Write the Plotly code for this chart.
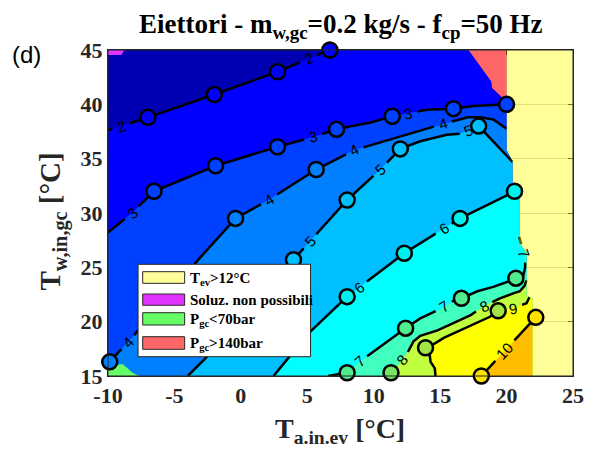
import numpy as np
import plotly.graph_objects as go

# ---- iso-lines of the map (x: T_a,in,ev [°C], y: T_w,in,gc [°C]) ----
iso2_x = [-10.0, -7.0, -2.0, 2.76, 6.7]
iso2_y = [37.6, 38.8, 40.9, 43.0, 45.0]
iso3_x = [-10.0, -8.2, -6.54, -1.9, 2.76, 5.45, 7.2, 8.55, 9.7, 11.4, 14.0, 16.0, 17.5, 20.0]
iso3_y = [28.2, 30.0, 32.0, 34.35, 36.1, 37.0, 37.7, 38.05, 38.3, 38.9, 39.5, 39.6, 39.85, 40.0]
iso4_x = [-10.0, -8.5, -3.13, -0.4, 2.09, 5.67, 8.55, 12.8, 15.2, 17.1, 18.0, 19.0, 20.0]
iso4_y = [16.15, 18.1, 25.8, 29.5, 31.2, 34.0, 35.8, 37.3, 38.2, 38.8, 38.8, 38.6, 37.75]
iso5_x = [-4.0, -2.76, 3.96, 5.2, 8.0, 10.5, 12.0, 13.5, 15.5, 16.5, 17.9, 20.45]
iso5_y = [15.0, 16.5, 25.7, 27.4, 31.2, 34.0, 35.9, 36.6, 37.2, 37.3, 38.0, 34.7]
iso6_x = [2.46, 3.33, 5.07, 8.0, 12.3, 16.5, 20.64]
iso6_y = [15.0, 16.3, 18.9, 22.3, 26.3, 29.5, 32.0]
iso7_x = [6.57, 8.0, 8.93, 10.8, 12.4, 13.5, 14.9, 16.1, 16.6, 17.8, 19.0, 20.1, 20.7, 21.25, 21.4, 21.4, 21.15, 20.95]
iso7_y = [15.0, 15.3, 16.3, 18.0, 19.4, 20.3, 21.1, 22.0, 22.15, 22.8, 23.2, 23.7, 24.0, 24.2, 25.0, 26.0, 26.9, 27.8]
iso8_x = [11.1, 11.3, 12.16, 12.66, 13.0, 13.5, 14.8, 16.0, 17.3, 18.25, 19.5, 20.5, 21.0, 21.35, 21.5]
iso8_y = [15.0, 15.2, 16.5, 17.4, 18.2, 18.7, 19.2, 19.85, 20.6, 21.4, 22.15, 22.6, 22.8, 23.3, 23.8]
iso9_x = [14.65, 14.6, 14.28, 14.2, 13.9, 14.4, 15.27, 16.5, 17.76, 18.75, 19.37, 20.5, 21.5, 21.72]
iso9_y = [15.0, 15.7, 16.3, 17.1, 17.6, 17.85, 18.5, 19.2, 19.85, 20.45, 21.0, 21.25, 21.7, 22.25]
iso10_x = [18.1, 21.95]
iso10_y = [15.0, 20.07]

levels = [2, 3, 4, 5, 6, 7, 8, 9, 10]
iso_x = [iso2_x, iso3_x, iso4_x, iso5_x, iso6_x, iso7_x, iso8_x, iso9_x, iso10_x]
iso_y = [iso2_y, iso3_y, iso4_y, iso5_y, iso6_y, iso7_y, iso8_y, iso9_y, iso10_y]

# inline label anchors for each level
labels_xy = {
    2: [(-9.0, 37.9), (5.1, 44.2)],
    3: [(-8.2, 30.0), (5.45, 37.0), (12.6, 39.1)],
    4: [(-8.5, 18.1), (2.1, 31.3), (8.55, 35.8), (15.2, 38.2)],
    5: [(5.2, 27.4), (10.5, 34.0), (17.2, 37.4)],
    6: [(8.9, 23.2), (15.3, 28.5)],
    7: [(8.93, 16.3), (15.27, 21.4), (21.3, 26.3)],
    8: [(12.16, 16.5), (18.25, 21.5)],
    9: [(20.5, 21.25)],
    10: [(19.9, 17.3)],
}

# operating points marked on the iso-lines
pts_x = {
    2: [-7.0, -2.0, 2.76, 6.7],
    3: [-6.54, -1.9, 2.76, 7.2, 11.4, 16.0, 20.0],
    4: [-9.87, -0.4, 5.67],
    5: [3.96, 8.0, 12.0, 17.9],
    6: [8.0, 12.3, 16.5, 20.6],
    7: [8.0, 12.4, 16.6, 20.7],
    8: [11.3],
    9: [13.9, 19.37],
    10: [18.1, 22.2],
}
pts_y = {
    2: [38.8, 40.9, 43.0, 45.0],
    3: [32.0, 34.35, 36.1, 37.7, 38.9, 39.6, 40.0],
    4: [16.3, 29.5, 34.0],
    5: [25.7, 31.2, 35.9, 38.0],
    6: [22.3, 26.3, 29.5, 32.0],
    7: [15.3, 19.4, 22.15, 24.0],
    8: [15.3],
    9: [17.6, 21.0],
    10: [15.0, 20.4],
}

# boundary of the computed domain (counter-clockwise from bottom-left)
dom_x = [-10.0, 21.95, 21.95, 21.5, 21.5, 20.95, 20.95, 20.45, 20.45, 20.0, 20.0, 19.7, 18.9, 18.85, 17.13, -10.0]
dom_y = [15.0, 15.0, 22.1, 22.4, 26.4, 27.2, 31.5, 32.3, 34.7, 35.8, 40.5, 40.6, 41.5, 42.1, 45.0, 45.0]

# small excluded regions
green_x = [-10.0, -10.0, -8.9, -8.15, -7.75, -7.6]
green_y = [15.0, 15.9, 16.1, 15.3, 15.05, 15.0]
magenta_x = [-10.0, -8.75, -9.0, -10.0]
magenta_y = [45.0, 45.0, 44.55, 44.55]

x_ticks = [-10, -5, 0, 5, 10, 15, 20, 25]
y_ticks = [15, 20, 25, 30, 35, 40, 45]

band_colors = {
    1: "rgb(0,0,178)", 2: "rgb(0,0,255)", 3: "rgb(0,64,255)", 4: "rgb(0,128,255)",
    5: "rgb(0,191,255)", 6: "rgb(0,255,255)", 7: "rgb(64,255,191)",
    8: "rgb(191,255,64)", 9: "rgb(255,255,0)", 10: "rgb(255,191,0)",
}
point_colors = {
    2: "rgb(0,0,255)", 3: "rgb(0,64,255)", 4: "rgb(0,128,255)", 5: "rgb(0,191,255)",
    6: "rgb(0,240,240)", 7: "rgb(80,235,140)", 8: "rgb(120,230,100)",
    9: "rgb(160,230,70)", 10: "rgb(255,225,0)",
}

# plot-area geometry (pixels)
ML, MR, MT, MB = 108, 19, 50, 74
W, H = 596, 450
XR, YR = (-10, 25), (15, 45)
KX = (W - ML - MR) / (XR[1] - XR[0])
KY = (H - MT - MB) / (YR[1] - YR[0])

bx = np.array(dom_x)
by = np.array(dom_y)
nb = len(bx)
edge_len = np.hypot(np.diff(np.r_[bx, bx[0]]) * KX, np.diff(np.r_[by, by[0]]) * KY)
vert_s = np.r_[0.0, np.cumsum(edge_len)[:-1]]


def boundary_s(px, py):
    best_d, best_s = None, 0.0
    for i in range(nb):
        ax, ay = bx[i] * KX, by[i] * KY
        cx, cy = bx[(i + 1) % nb] * KX, by[(i + 1) % nb] * KY
        dx, dy = cx - ax, cy - ay
        t = np.clip(((px * KX - ax) * dx + (py * KY - ay) * dy) / (dx * dx + dy * dy), 0, 1)
        d = np.hypot(ax + t * dx - px * KX, ay + t * dy - py * KY)
        if best_d is None or d < best_d:
            best_d, best_s = d, vert_s[i] + t * edge_len[i]
    return best_s


def high_side_polygon(xs, ys):
    sS = boundary_s(xs[0], ys[0])
    sE = boundary_s(xs[-1], ys[-1])
    order = np.argsort(-vert_s)
    if sS < sE:
        sel = [i for i in order if sS < vert_s[i] < sE]
    else:
        sel = [i for i in order if vert_s[i] < sE] + [i for i in order if vert_s[i] > sS]
    px = list(xs) + [bx[i] for i in sel] + [xs[0]]
    py = list(ys) + [by[i] for i in sel] + [ys[0]]
    return px, py


def locate(xs, ys, qx, qy):
    X, Y = np.array(xs) * KX, np.array(ys) * KY
    seg = np.hypot(np.diff(X), np.diff(Y))
    cum = np.r_[0.0, np.cumsum(seg)]
    best = None
    for i in range(len(X) - 1):
        dx, dy = X[i + 1] - X[i], Y[i + 1] - Y[i]
        t = np.clip(((qx * KX - X[i]) * dx + (qy * KY - Y[i]) * dy) / (dx * dx + dy * dy), 0, 1)
        d = np.hypot(X[i] + t * dx - qx * KX, Y[i] + t * dy - qy * KY)
        if best is None or d < best[0]:
            best = (d, cum[i] + t * seg[i], np.degrees(np.arctan2(dy, dx)))
    return best[1], best[2], cum


def broken_line(xs, ys, gaps, cum):
    xs, ys = np.array(xs), np.array(ys)
    vis, start = [], 0.0
    for a, b in sorted(gaps):
        vis.append((start, a))
        start = b
    vis.append((start, cum[-1]))
    ox, oy = [], []
    for a, b in vis:
        a, b = max(a, 0.0), min(b, cum[-1])
        if b <= a:
            continue
        inner = (cum > a) & (cum < b)
        ox += [np.interp(a, cum, xs)] + list(xs[inner]) + [np.interp(b, cum, xs), None]
        oy += [np.interp(a, cum, ys)] + list(ys[inner]) + [np.interp(b, cum, ys), None]
    return ox, oy


fig = go.Figure()

# filled bands, stacked from the lowest level up
fig.add_trace(go.Scatter(x=list(bx) + [bx[0]], y=list(by) + [by[0]], mode="lines",
                         fill="toself", fillcolor=band_colors[1], line=dict(width=0),
                         hoverinfo="skip", showlegend=False))
for lev, xs, ys in zip(levels, iso_x, iso_y):
    px, py = high_side_polygon(xs, ys)
    fig.add_trace(go.Scatter(x=px, y=py, mode="lines", fill="toself",
                             fillcolor=band_colors[lev], line=dict(width=0),
                             hoverinfo="skip", showlegend=False))

# iso-lines with inline labels
annotations = []
for lev, xs, ys in zip(levels, iso_x, iso_y):
    gaps = []
    gap = 28 if lev >= 10 else 19
    cum = None
    for (qx, qy) in labels_xy[lev]:
        s, ang, cum = locate(xs, ys, qx, qy)
        if ang > 90:
            ang -= 180
        elif ang < -90:
            ang += 180
        gaps.append((s - gap / 2, s + gap / 2))
        lx = np.interp(s, cum, xs)
        ly = np.interp(s, cum, ys)
        annotations.append(dict(x=lx, y=ly, xref="x", yref="y", text=str(lev), showarrow=False,
                                textangle=-ang, xanchor="center", yanchor="middle",
                                font=dict(family="Liberation Sans", size=15, color="black")))
    if cum is None:
        _, _, cum = locate(xs, ys, xs[0], ys[0])
    lx_, ly_ = broken_line(xs, ys, gaps, cum)
    fig.add_trace(go.Scatter(x=lx_, y=ly_, mode="lines", line=dict(color="black", width=2.5),
                             hoverinfo="skip", showlegend=False))

# excluded regions
ix_y = list(range(1, 11))
yel_x = [bx[i] for i in ix_y] + [20.0, 25.0, 25.0, bx[1]]
yel_y = [by[i] for i in ix_y] + [45.0, 45.0, 15.0, by[1]]
fig.add_trace(go.Scatter(x=yel_x, y=yel_y, mode="lines", fill="toself",
                         fillcolor="rgba(255,255,0,0.4)", line=dict(width=0),
                         hoverinfo="skip", showlegend=False))
ix_r = list(range(10, 15))
red_x = [bx[i] for i in ix_r] + [20.0, bx[10]]
red_y = [by[i] for i in ix_r] + [45.0, by[10]]
fig.add_trace(go.Scatter(x=red_x, y=red_y, mode="lines", fill="toself",
                         fillcolor="rgba(255,0,0,0.6)", line=dict(width=0),
                         hoverinfo="skip", showlegend=False))
fig.add_trace(go.Scatter(x=green_x + [green_x[0]], y=green_y + [green_y[0]], mode="lines",
                         fill="toself", fillcolor="rgb(102,255,102)", line=dict(width=0),
                         hoverinfo="skip", showlegend=False))
fig.add_trace(go.Scatter(x=magenta_x + [magenta_x[0]], y=magenta_y + [magenta_y[0]], mode="lines",
                         fill="toself", fillcolor="rgb(224,51,255)", line=dict(width=0),
                         hoverinfo="skip", showlegend=False))

# operating points
for lev in levels:
    fig.add_trace(go.Scatter(x=pts_x[lev], y=pts_y[lev], mode="markers", cliponaxis=False,
                             marker=dict(size=15, color=point_colors[lev],
                                         line=dict(color="black", width=2.5)),
                             hoverinfo="skip", showlegend=False))


def paper_x(px):
    return (px - ML) / (W - ML - MR)


def paper_y(py):
    return (H - MB - py) / (H - MT - MB)


shapes = [dict(type="rect", xref="paper", yref="paper", x0=0, x1=1, y0=0, y1=1,
               line=dict(color="rgb(38,38,38)", width=1), layer="above")]

# legend box
leg_items = [
    ("T<sub>ev</sub>&gt;12°C", "rgb(255,255,153)", 271.7, 283.3),
    ("Soluz. non possibili", "rgb(224,51,255)", 294.0, 305.3),
    ("P<sub>gc</sub>&lt;70bar", "rgb(102,255,102)", 312.7, 325.0),
    ("P<sub>gc</sub>&gt;140bar", "rgb(255,102,102)", 336.7, 349.3),
]
shapes.append(dict(type="rect", xref="paper", yref="paper",
                   x0=paper_x(138.3), x1=paper_x(312.3), y0=paper_y(356.7), y1=paper_y(264.3),
                   fillcolor="white", line=dict(color="rgb(38,38,38)", width=1), layer="above"))
for txt, col, t0, t1 in leg_items:
    shapes.append(dict(type="rect", xref="paper", yref="paper",
                       x0=paper_x(143), x1=paper_x(185.3), y0=paper_y(t1), y1=paper_y(t0),
                       fillcolor=col, line=dict(color="rgb(40,40,40)", width=1), layer="above"))
    annotations.append(dict(x=paper_x(189), y=paper_y(t0 - 4), xref="paper", yref="paper",
                            text=txt, showarrow=False, xanchor="left", yanchor="top",
                            font=dict(family="Liberation Serif", size=15, color="black",
                                      weight="bold")))

# titles
annotations.append(dict(x=0.5, y=paper_y(45), xref="paper", yref="paper", yanchor="bottom",
                        text="Eiettori - m<sub>w,gc</sub>=0.2 kg/s - f<sub>cp</sub>=50 Hz",
                        showarrow=False,
                        font=dict(family="Liberation Serif", size=27, color="black", weight="bold")))
annotations.append(dict(x=paper_x(342), y=paper_y(450), xref="paper", yref="paper",
                        text="T<sub>a.in.ev</sub> [°C]", showarrow=False,
                        xanchor="center", yanchor="bottom",
                        font=dict(family="Liberation Serif", size=28, color="rgb(38,38,38)",
                                  weight="bold")))
annotations.append(dict(x=paper_x(52), y=paper_y(221), xref="paper", yref="paper",
                        text="T<sub>w,in,gc</sub> [°C]", showarrow=False, textangle=-90,
                        xanchor="center", yanchor="middle",
                        font=dict(family="Liberation Serif", size=29, color="rgb(38,38,38)",
                                  weight="bold")))
annotations.append(dict(x=paper_x(26), y=paper_y(54), xref="paper", yref="paper",
                        text="(d)", showarrow=False, xanchor="center", yanchor="middle",
                        font=dict(family="Liberation Sans", size=24, color="black")))

tick_font = dict(family="Liberation Serif", size=22, color="rgb(38,38,38)", weight="bold")
fig.update_layout(
    width=W, height=H, autosize=False,
    margin=dict(l=ML, r=MR, t=MT, b=MB),
    paper_bgcolor="white", plot_bgcolor="white",
    xaxis=dict(range=list(XR), tickvals=x_ticks, ticktext=[str(v) for v in x_ticks],
               ticks="inside", ticklen=5,
               tickcolor="rgb(38,38,38)", showline=True, linecolor="rgb(38,38,38)",
               mirror="ticks", layer="below traces", showgrid=True,
               gridcolor="rgb(205,205,205)", zeroline=False, tickfont=tick_font),
    yaxis=dict(range=list(YR), tickvals=y_ticks, ticktext=[str(v) for v in y_ticks],
               ticks="inside", ticklen=5,
               tickcolor="rgb(38,38,38)", showline=True, linecolor="rgb(38,38,38)",
               mirror="ticks", layer="below traces", showgrid=True,
               gridcolor="rgb(205,205,205)", zeroline=False, tickfont=tick_font),
    shapes=shapes,
    annotations=annotations,
)

fig.write_html("out.html")
